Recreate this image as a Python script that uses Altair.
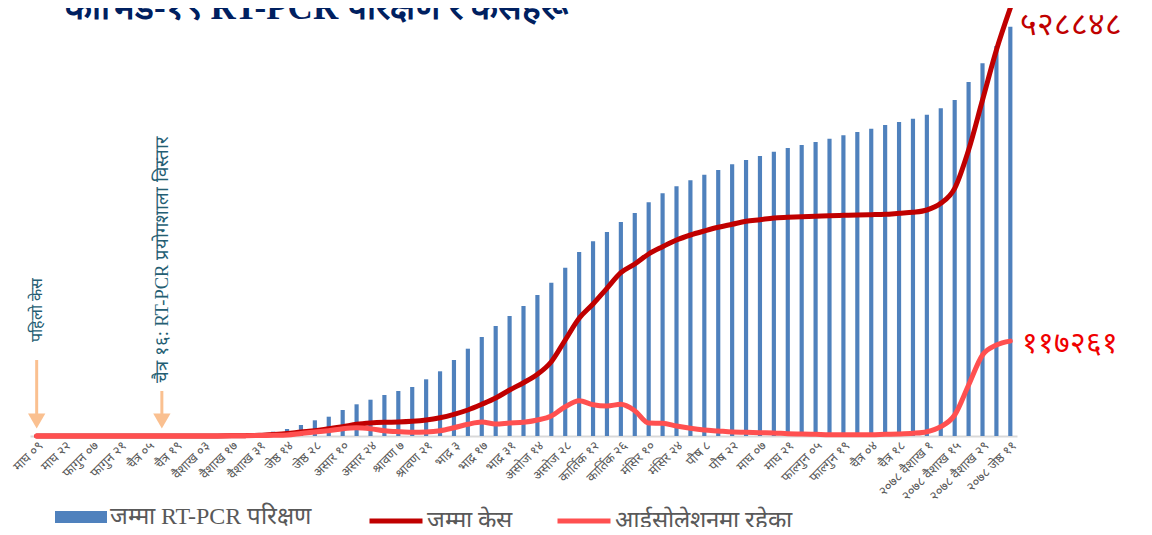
import json
import altair as alt
import pandas as pd

# ---------------- data ----------------
tick_labels = ["माघ ०९", "माघ २२", "फागुन ०७", "फागुन २१", "चैत्र ०५", "चैत्र १९",
               "वैशाख ०३", "वैशाख १७", "वैशाख ३१", "जेष्ठ १४", "जेष्ठ २८", "असार १०",
               "असार २४", "श्रावण ७", "श्रावण २१", "भाद्र ३", "भाद्र १७", "भाद्र ३१",
               "असोज १४", "असोज २८", "कार्तिक १२", "कार्तिक २६", "मंसिर १०", "मंसिर २४",
               "पौष ८", "पौष २२", "माघ ०७", "माघ २१", "फाल्गुन ०५", "फाल्गुन १९",
               "चैत्र ०४", "चैत्र १८", "२०७८ वैशाख १", "२०७८ वैशाख १५", "२०७८ वैशाख २९",
               "२०७८ जेष्ठ ११"]

# cumulative RT-PCR tests (weekly)
tests = [0, 0, 0, 0, 0, 0, 0, 0, 0, 0,
         500, 1200, 2500, 4500, 7000, 9500, 12000,
         27950, 45500, 71500, 102050, 125450, 169000, 206050, 235950, 266500, 292500,
         318500, 368550, 420550, 494000, 567450, 643500, 715000, 780000, 845000, 916500,
         996450, 1093950, 1196000, 1265550, 1326000, 1391000, 1449500, 1519050, 1577550,
         1623050, 1662050, 1698450, 1729000, 1766050, 1794000, 1820000, 1847950, 1872000,
         1891500, 1911000, 1932450, 1954550, 1976000, 1997450, 2021500, 2041000, 2062450,
         2088450, 2130050, 2184000, 2301000, 2422550, 2535000, 2660450]

# cumulative cases
cases = [1, 1, 1, 1, 1, 1, 1, 1, 1, 5,
         9, 16, 42, 82, 217, 450, 900,
         1853, 3089, 4942, 6549, 9020, 11491, 14457, 16063, 16928, 17298,
         18163, 19770, 22611, 26813, 32126, 39169, 46953, 56838, 65858, 76237,
         91805, 118618, 145430, 163099, 182498, 201773, 212523, 224879, 233898,
         242178, 248356, 253298, 257870, 261577, 265283, 267260, 269361, 270225,
         270967, 271461, 272203, 272697, 273068, 273438, 273932, 275168, 276403,
         279245, 287524, 306058, 353382, 415162, 476942, 528848]

# people in isolation
isolation = [1, 1, 1, 1, 1, 1, 1, 1, 1, 4,
             8, 13, 38, 65, 180, 370, 600,
             865, 1236, 3089, 4942, 6549, 9020, 10255, 9020, 6549, 5313,
             4572, 4942, 6549, 10255, 14457, 17298, 14827, 16063, 16928, 19770,
             24712, 36203, 43617, 38674, 37068, 39169, 31261, 16063, 15692,
             12356, 9514, 7414, 6178, 4942, 4572, 4077, 3707, 2842,
             2471, 2101, 1606, 1606, 1606, 1606, 2101, 2471, 3336,
             5313, 11491, 25948, 63016, 100084, 112440, 117261]

series_tests = "जम्मा RT-PCR परिक्षण"
series_cases = "जम्मा केस"
series_iso = "आईसोलेशनमा रहेका"

annot_idx = [0, 9]
annot_text = ["पहिलो केस", "चैत्र १६: RT-PCR प्रयोगशाला विस्तार"]
annot_tail = [93906, 55602]
annot_shaft_end = [27183, 27183]
annot_head = [18534, 18534]
annot_text_y = [116146, 65487]

title_text = "कोभिड-१९  RT-PCR परिक्षण र केसहरू"

# ---------------- helpers ----------------
DEV = str.maketrans("0123456789", "०१२३४५६७८९")


def dev(n):
    return str(n).translate(DEV)


idx = list(range(len(tests)))
bar_df = pd.DataFrame({"idx": idx, "tests": tests, "series": series_tests})
line_df = pd.concat([
    pd.DataFrame({"idx": idx, "value": cases, "series": series_cases, "order": 0}),
    pd.DataFrame({"idx": idx, "value": isolation, "series": series_iso, "order": 1}),
])
end_cases = pd.DataFrame({"idx": [idx[-1]], "value": [cases[-1]], "label": [dev(cases[-1])]})
end_iso = pd.DataFrame({"idx": [idx[-1]], "value": [isolation[-1]], "label": [dev(isolation[-1])]})
annot_df = pd.DataFrame({"idx": annot_idx, "text": annot_text, "tail": annot_tail,
                         "shaft_end": annot_shaft_end, "head": annot_head,
                         "text_y": annot_text_y, "k": [0, 1]})
title_df = pd.DataFrame({"t": [title_text]})

PLOT_H = 398
cases_dom = [0, PLOT_H * 1235.6]
tests_dom = [0, PLOT_H * 6500]

xscale = alt.Scale(paddingInner=0.7, paddingOuter=0.33)
label_expr = json.dumps(tick_labels, ensure_ascii=False) + "[datum.value / 2]"
xaxis = alt.Axis(values=list(range(0, len(tests), 2)), labelExpr=label_expr, labelAngle=-45,
                 labelFontSize=13, labelColor="#595959", ticks=False, domainColor="#D9D9D9",
                 domainWidth=2, title=None, labelPadding=3, grid=False, labelOverlap=False,
                 labelFont="Noto Sans", labelLimit=200)
X = alt.X("idx:O", scale=xscale, axis=xaxis)
Xn = alt.X("idx:O", scale=xscale)

ysc_c = alt.Scale(domain=cases_dom, nice=False, zero=True)

bars = alt.Chart(bar_df).mark_bar().encode(
    x=X,
    y=alt.Y("tests:Q", axis=None, scale=alt.Scale(domain=tests_dom, nice=False, zero=True)),
    fill=alt.Fill("series:N", scale=alt.Scale(domain=[series_tests], range=["#4F81BD"]),
                  legend=alt.Legend(orient="none", legendX=25, legendY=453, title=None,
                                    symbolType="M-1,-0.23H1V0.23H-1Z", symbolSize=2704,
                                    symbolStrokeWidth=0, labelFontSize=24,
                                    labelFont="Liberation Serif", labelColor="#595959",
                                    labelOffset=3, padding=0, labelLimit=400)),
)

lines = alt.Chart(line_df).mark_line(strokeWidth=5, interpolate="monotone", strokeCap="round",
                                     strokeJoin="round").encode(
    x=Xn,
    y=alt.Y("value:Q", axis=None, scale=ysc_c),
    stroke=alt.Stroke("series:N",
                      scale=alt.Scale(domain=[series_cases, series_iso],
                                      range=["#C00000", "#FF5050"]),
                      legend=alt.Legend(orient="none", direction="horizontal", legendX=337,
                                        legendY=454, title=None, symbolType="stroke",
                                        symbolSize=2809, symbolStrokeWidth=5,
                                        columnPadding=35, labelFontSize=24,
                                        labelFont="Liberation Serif", labelColor="#595959",
                                        labelOffset=2, padding=0, labelLimit=400)),
    order="order:Q",
)

arrow_shaft = alt.Chart(annot_df).mark_rule(color="#FAC090", strokeWidth=3).encode(
    x=Xn, y=alt.Y("tail:Q", axis=None, scale=ysc_c), y2="shaft_end:Q")
arrow_head = alt.Chart(annot_df).mark_point(shape="triangle-down", filled=True, color="#FAC090",
                                            size=300, opacity=1).encode(
    x=Xn, y=alt.Y("head:Q", axis=None, scale=ysc_c))
annot_lbl1 = alt.Chart(annot_df).transform_filter("datum.k == 0").mark_text(
    angle=270, align="left", baseline="middle", fontSize=16, font="Liberation Serif",
    color="#245E73").encode(
    x=Xn, y=alt.Y("text_y:Q", axis=None, scale=ysc_c), text="text:N")
annot_lbl2 = alt.Chart(annot_df).transform_filter("datum.k == 1").mark_text(
    angle=270, align="left", baseline="middle", fontSize=18.5, font="Liberation Serif",
    color="#245E73").encode(
    x=Xn, y=alt.Y("text_y:Q", axis=None, scale=ysc_c), text="text:N")

end_lbl_c = alt.Chart(end_cases).mark_text(align="left", baseline="middle", dx=10, dy=17,
                                           fontSize=32, color="#C00000",
                                           font="Liberation Serif").encode(
    x=Xn, y=alt.Y("value:Q", axis=None, scale=ysc_c), text="label:N")
end_lbl_i = alt.Chart(end_iso).mark_text(align="left", baseline="middle", dx=12, dy=3,
                                         fontSize=30, color="#F00000",
                                         font="Liberation Serif").encode(
    x=Xn, y=alt.Y("value:Q", axis=None, scale=ysc_c), text="label:N")

title_mark = alt.Chart(title_df).mark_text(
    align="left", baseline="alphabetic", font="Liberation Serif", fontSize=35,
    fontWeight="bold", color="#002060").encode(
    text="t:N", x=alt.value(35), y=alt.value(-19))

inner = alt.layer(lines, arrow_shaft, arrow_head, annot_lbl1, annot_lbl2, end_lbl_c, end_lbl_i)

chart = alt.layer(bars, inner, title_mark).resolve_scale(y="independent").properties(
    width=987,
    height=PLOT_H,
    autosize=alt.AutoSizeParams(type="none"),
    padding={"left": 22, "top": 30, "right": 127, "bottom": 91},
).configure_view(stroke=None)

chart.save("out.html", embed_options={"renderer": "svg", "actions": False})
